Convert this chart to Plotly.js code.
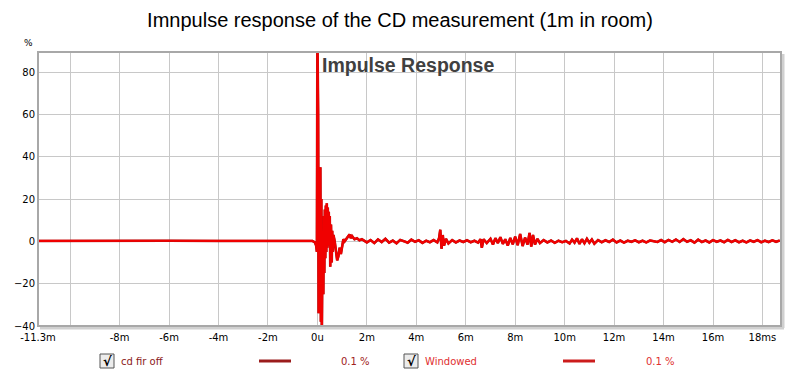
<!DOCTYPE html>
<html>
<head>
<meta charset="utf-8">
<script src="https://cdn.plot.ly/plotly-3.0.1.min.js"></script>
<style>html,body{margin:0;padding:0;background:#fff;}#chart{width:800px;height:375px;}</style>
</head>
<body>
<div id="chart"></div>
<script>
// Time in ms, amplitude in %
const timeMs = [
  -11.3, -10, -8, -6, -4, -2, -1, -0.5, -0.2, -0.1, -0.05, -0.02,
  0.0, 0.03, 0.05, 0.08, 0.1, 0.12, 0.14, 0.16, 0.18, 0.2, 0.22, 0.24, 0.26, 0.28,
  0.3, 0.32, 0.34, 0.36, 0.38, 0.4, 0.42, 0.44, 0.46, 0.48, 0.5, 0.52, 0.55, 0.58,
  0.6, 0.62, 0.65, 0.7, 0.75, 0.8, 0.85, 0.9, 0.95, 1.0, 1.05, 1.1, 1.2, 1.3, 1.35,
  1.4, 1.5, 1.6, 1.7, 1.8,
  2.0, 2.15, 2.3, 2.45, 2.6, 2.75, 2.9, 3.05, 3.2, 3.35, 3.5, 3.65, 3.8, 3.95,
  4.1, 4.25, 4.4, 4.55, 4.7, 4.85, 4.92, 4.97, 5.02, 5.07, 5.12, 5.2, 5.3, 5.45,
  5.6, 5.75, 5.9, 6.05, 6.2, 6.35, 6.5, 6.6, 6.65, 6.72, 6.85, 7.0, 7.1, 7.2, 7.3,
  7.4, 7.5, 7.6, 7.7, 7.8, 7.9, 8.0, 8.1, 8.2, 8.3, 8.4, 8.5, 8.58, 8.65, 8.72,
  8.8, 8.9, 9.0, 9.15, 9.3, 9.45, 9.6, 9.75, 9.9, 10.05, 10.2, 10.3, 10.4, 10.5,
  10.6, 10.7, 10.8, 10.9, 11.0, 11.1, 11.2, 11.35, 11.5, 11.65, 11.8, 11.95, 12.1,
  12.25, 12.4, 12.55, 12.7, 12.85, 13.0, 13.15, 13.3, 13.45, 13.6, 13.75, 13.9,
  14.05, 14.2, 14.35, 14.5, 14.65, 14.8, 14.95, 15.1, 15.25, 15.4, 15.55, 15.7,
  15.85, 16.0, 16.15, 16.3, 16.45, 16.6, 16.75, 16.9, 17.05, 17.2, 17.35, 17.5,
  17.65, 17.8, 17.95, 18.1, 18.25, 18.4, 18.55, 18.7
];
const cdFirOff = [
  0.2, 0.3, 0.2, 0.3, 0.2, 0.3, 0.2, 0.3, 0.2, -0.5, -2, -5,
  100, 60, -34, 10, -20, 35, -38, 20, -45, -10, 5, -25, 12, -15,
  15, -8, 17, -5, 18, -3, 16, 0, 14, -2, 12, -12, 8, -10,
  5, -5, 3, 0, -5, -9, -7, -3, -6, -2, 1, 0, 2, 3.3, 1.5,
  2.5, 1, 1.5, 0.5, 1,
  -0.5, 0.6, -0.8, 0.9, -0.3, 1.2, -0.6, 0.4, -0.9, 0.7, 0.1, -0.6, 0.8, -0.2,
  0.5, -0.7, 0.3, -0.4, 0.6, -0.5, 1.5, 5.5, -3.5, 3.0, -2.0, 1.2, -1.0, 0.6,
  -0.5, 0.4, -0.3, 0.5, -0.4, 0.3, -0.6, 1.0, -3.0, 1.0, -0.8, 1.2, -1.5, 1.5, -0.8,
  2.0, -1.2, 1.0, -2.0, 1.6, -1.4, 2.2, -1.8, 3.5, -2.2, 1.8, -1.5, 4.0, -2.5, 3.0,
  -1.5, 1.2, -0.8, 0.6, -0.5, 0.4, -0.7, 0.3, -0.4, 0.2, -1.0, 0.8, -0.6, 1.4,
  -1.2, 1.0, -0.9, 1.2, -0.6, 0.9, -1.1, 0.6, -0.4, 0.5, -0.3, 0.8, -0.5,
  0.4, -0.6, 0.3, -0.2, 0.5, -0.4, 0.3, -0.5, 0.4, 0.1, -0.3, 0.6,
  -0.4, 0.7, -0.2, 0.9, -0.3, 1.1, -0.2, 0.5, -0.6, 0.8, -0.3, 0.4,
  -0.5, 0.6, -0.2, 0.4, -0.4, 0.7, -0.3, 0.5, -0.4, 0.3, -0.5, 0.4,
  -0.2, 0.6, -0.4, 0.3, -0.3, 0.5, -0.2, 0.4
];
const windowed = cdFirOff;

const xTickVals = [-11.3, -10, -8, -6, -4, -2, 0, 2, 4, 6, 8, 10, 12, 14, 16, 18];
const xTickText = ['-11.3m', '', '-8m', '-6m', '-4m', '-2m', '0u', '2m', '4m', '6m', '8m', '10m', '12m', '14m', '16m', '18ms'];
const yTickVals = [-40, -20, 0, 20, 40, 60, 80];
const seriesNames = ['cd fir off', 'Windowed'];
const seriesValueText = ['0.1 %', '0.1 %'];

const L = 38, R = 19, T = 52, B = 49, W = 800, H = 375;
const pw = W - L - R, ph = H - T - B;
const px = x => (x - L) / pw;
const py = y => (H - B - y) / ph;

const traces = [
  {x: timeMs, y: cdFirOff, type: 'scatter', mode: 'lines', name: seriesNames[0],
   line: {color: '#a01818', width: 2.6}, showlegend: false, hoverinfo: 'skip'},
  {x: timeMs, y: windowed, type: 'scatter', mode: 'lines', name: seriesNames[1],
   line: {color: '#f00000', width: 2.2}, showlegend: false, hoverinfo: 'skip'}
];

const legY = 361;
const shapes = [
  {type: 'line', xref: 'paper', yref: 'paper', x0: 1 + 2/pw, x1: 1 + 2/pw, y0: -2/ph, y1: 1 - 2/ph, line: {color: '#d0d0d0', width: 3}},
  {type: 'line', xref: 'paper', yref: 'paper', x0: 2/pw, x1: 1 + 3/pw, y0: -2/ph, y1: -2/ph, line: {color: '#d0d0d0', width: 3}},
  {type: 'rect', xref: 'paper', yref: 'paper', x0: 0, x1: 1, y0: 0, y1: 1, line: {color: '#a8a8a8', width: 2}},
  {type: 'rect', xref: 'paper', yref: 'paper', x0: px(100), x1: px(114), y0: py(368), y1: py(354), line: {color: '#555', width: 1}, fillcolor: '#ececec'},
  {type: 'rect', xref: 'paper', yref: 'paper', x0: px(404), x1: px(418), y0: py(368), y1: py(354), line: {color: '#555', width: 1}, fillcolor: '#ececec'},
  {type: 'line', xref: 'paper', yref: 'paper', x0: px(259), x1: px(291), y0: py(legY), y1: py(legY), line: {color: '#9b1c1c', width: 3}},
  {type: 'line', xref: 'paper', yref: 'paper', x0: px(563), x1: px(595), y0: py(legY), y1: py(legY), line: {color: '#cc1c1c', width: 3}}
];

const legFont = {family: 'DejaVu Sans, Verdana, sans-serif', size: 10};
const annotations = [
  {text: '%', xref: 'paper', yref: 'paper', x: px(28), y: py(43), showarrow: false, xanchor: 'center', yanchor: 'middle',
   font: {family: 'DejaVu Sans, sans-serif', size: 9, color: '#000'}},
  {text: 'Impulse Response', xref: 'paper', yref: 'paper', x: px(320), y: py(65), showarrow: false, xanchor: 'left', yanchor: 'middle',
   font: {family: 'Liberation Sans, Arial, sans-serif', size: 19.5, color: '#404040', weight: 'bold'}},
  {text: '√', xref: 'paper', yref: 'paper', x: px(107.5), y: py(361), showarrow: false, xanchor: 'center', yanchor: 'middle',
   font: {family: 'DejaVu Sans, sans-serif', size: 13, color: '#000', weight: 'bold'}},
  {text: '√', xref: 'paper', yref: 'paper', x: px(411.5), y: py(361), showarrow: false, xanchor: 'center', yanchor: 'middle',
   font: {family: 'DejaVu Sans, sans-serif', size: 13, color: '#000', weight: 'bold'}},
  {text: seriesNames[0], xref: 'paper', yref: 'paper', x: px(119), y: py(legY), showarrow: false, xanchor: 'left', yanchor: 'middle',
   font: Object.assign({}, legFont, {color: '#8b1a1a'})},
  {text: seriesValueText[0], xref: 'paper', yref: 'paper', x: px(339), y: py(legY), showarrow: false, xanchor: 'left', yanchor: 'middle',
   font: Object.assign({}, legFont, {color: '#a02020'})},
  {text: seriesNames[1], xref: 'paper', yref: 'paper', x: px(423), y: py(legY), showarrow: false, xanchor: 'left', yanchor: 'middle',
   font: Object.assign({}, legFont, {color: '#e03030'})},
  {text: seriesValueText[1], xref: 'paper', yref: 'paper', x: px(644), y: py(legY), showarrow: false, xanchor: 'left', yanchor: 'middle',
   font: Object.assign({}, legFont, {color: '#e03030'})}
];

const layout = {
  width: W, height: H,
  margin: {l: L, r: R, t: T, b: B, pad: 0},
  paper_bgcolor: '#fff', plot_bgcolor: '#fff',
  title: {text: 'Imnpulse response of the CD measurement (1m in room)', x: 0.5, xanchor: 'center',
    y: (H - 20) / H, yanchor: 'middle', yref: 'container',
    font: {family: 'Liberation Sans, Arial, sans-serif', size: 20, color: '#000'}},
  xaxis: {range: [-11.3, 18.75], tickmode: 'array', tickvals: xTickVals, ticktext: xTickText,
    showgrid: true, gridcolor: '#c8c8c8', gridwidth: 1, zeroline: false, showline: false, ticks: '',
    tickfont: {family: 'DejaVu Sans, Verdana, sans-serif', size: 10, color: '#000'}, ticklabelstandoff: 4, fixedrange: true},
  yaxis: {range: [-40, 89.5], tickmode: 'array', tickvals: yTickVals,
    showgrid: true, gridcolor: '#c8c8c8', gridwidth: 1, zeroline: false, showline: false, ticks: '',
    tickfont: {family: 'DejaVu Sans, Verdana, sans-serif', size: 10, color: '#000'}, ticklabelstandoff: 2, fixedrange: true},
  shapes: shapes,
  annotations: annotations,
  showlegend: false
};

Plotly.newPlot('chart', traces, layout, {displayModeBar: false, staticPlot: true});
</script>
</body>
</html>
